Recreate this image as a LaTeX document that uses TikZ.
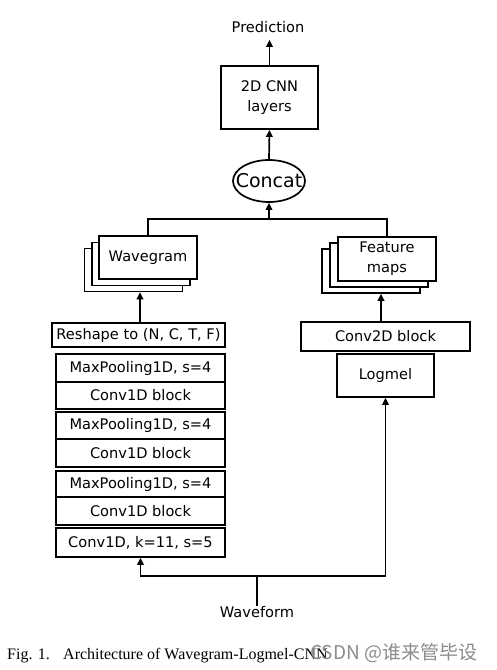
\documentclass[tikz,border=0pt]{standalone}
\usepackage{fontspec}
\setmainfont{DejaVu Sans}
\newfontfamily\capfont{Liberation Serif}
\newfontfamily\cjkfont{Noto Sans CJK SC}
\usetikzlibrary{arrows.meta,shapes.geometric,calc}
\tikzset{
  box/.style={draw, line width=1.7pt, fill=white, inner sep=0pt, align=center,
              font=\fontsize{14.6}{20}\selectfont},
  conn/.style={line width=1.7pt},
  arr/.style={line width=1.7pt, -{Triangle[length=7pt,width=6.5pt]}},
  lbl/.style={inner sep=0pt, font=\fontsize{14.6}{20}\selectfont}
}
\begin{document}
\begin{tikzpicture}[x=1pt,y=-1pt]
\useasboundingbox (0,0) rectangle (497,670);
\fill[white] (0,0) rectangle (497,670);

% top
\node[lbl] (pred) at (268,27) {Prediction};
\node[box, minimum width=97pt, minimum height=63pt] (cnn) at (269.5,97.5) {2D CNN\\layers};
\node[draw, ellipse, line width=1.7pt, minimum width=72pt, minimum height=42pt, inner sep=0pt] (concat) at (269,181) {};
\node[inner sep=0pt, font=\fontsize{19}{22}\selectfont] (concattext) at (concat.center) {Concat};
\coordinate (jt) at (269,219);

% wavegram stack
\node[box, line width=1.5pt, minimum width=98pt, minimum height=43pt] (wg3) at (133.5,270) {};
\node[box, line width=1.5pt, minimum width=98pt, minimum height=43pt] (wg2) at (141,264) {};
\node[box, line width=1.5pt, minimum width=98pt, minimum height=43pt] (wg1) at (148,257.5) {Wavegram};

% feature maps stack
\node[box, line width=1.5pt, minimum width=98pt, minimum height=44pt] (fm3) at (371,271) {};
\node[box, line width=1.5pt, minimum width=98pt, minimum height=44pt] (fm2) at (379,265) {};
\node[box, line width=1.5pt, minimum width=98pt, minimum height=44pt] (fm1) at (387,259) {Feature\\maps};

% left column
\node[box, line width=2.2pt, minimum width=173pt, minimum height=24pt] (reshape) at (138.5,335) {Reshape to (N, C, T, F)};
\node[box, minimum width=169pt, minimum height=28pt] (mp1) at (140.5,368) {MaxPooling1D, s=4};
\node[box, minimum width=169pt, minimum height=27pt] (cb1) at (140.5,395.5) {Conv1D block};
\node[box, minimum width=169pt, minimum height=27pt] (mp2) at (140.5,425.5) {MaxPooling1D, s=4};
\node[box, minimum width=169pt, minimum height=28pt] (cb2) at (140.5,453) {Conv1D block};
\node[box, minimum width=169pt, minimum height=26pt] (mp3) at (140.5,484) {MaxPooling1D, s=4};
\node[box, minimum width=169pt, minimum height=28pt] (cb3) at (140.5,511) {Conv1D block};
\node[box, minimum width=169pt, minimum height=29pt] (c11) at (140.5,542.5) {Conv1D, k=11, s=5};

% right column
\node[box, minimum width=169pt, minimum height=29pt] (conv2d) at (385.5,336.5) {Conv2D block};
\node[box, minimum width=97pt, minimum height=43pt] (logmel) at (385.5,375.5) {Logmel};

% bottom
\node[lbl] (wf) at (257,612) {Waveform};
\coordinate (jb) at (257,576);

% connectors
\draw[arr] (cnn.north) -- ($(cnn.north |- pred.south)+(0,7)$);
\draw[arr] (concat.north) -- (cnn.south);
\draw[arr] (jt) -- (concat.south);
\draw[conn] (wg1.north) |- (jt) -| (fm1.north);
\draw[arr] ($(reshape.north)+(1.5,0)$) -- ($(reshape.north |- wg3.south)+(1.5,0)$);
\draw[arr] ($(conv2d.north)+(-4.5,0)$) -- ($(conv2d.north |- fm3.south)+(-4.5,0)$);
\draw[conn] (wf.north) -- (jb);
\draw[arr] (jb) -| (c11.south);
\draw[arr] (jb) -| (logmel.south);

% caption and watermark
\node[anchor=base west, inner sep=0pt, font=\capfont\fontsize{16}{18}\selectfont] (cap) at (7,659)
  {Fig. 1.\hspace{0.5em} Architecture of Wavegram-Logmel-CNN};
\node[anchor=base west, inner sep=0pt, text=black!45, font=\cjkfont\fontsize{19}{22}\selectfont] (wm) at (310,659)
  {CSDN @谁来管毕设};
\end{tikzpicture}
\end{document}
